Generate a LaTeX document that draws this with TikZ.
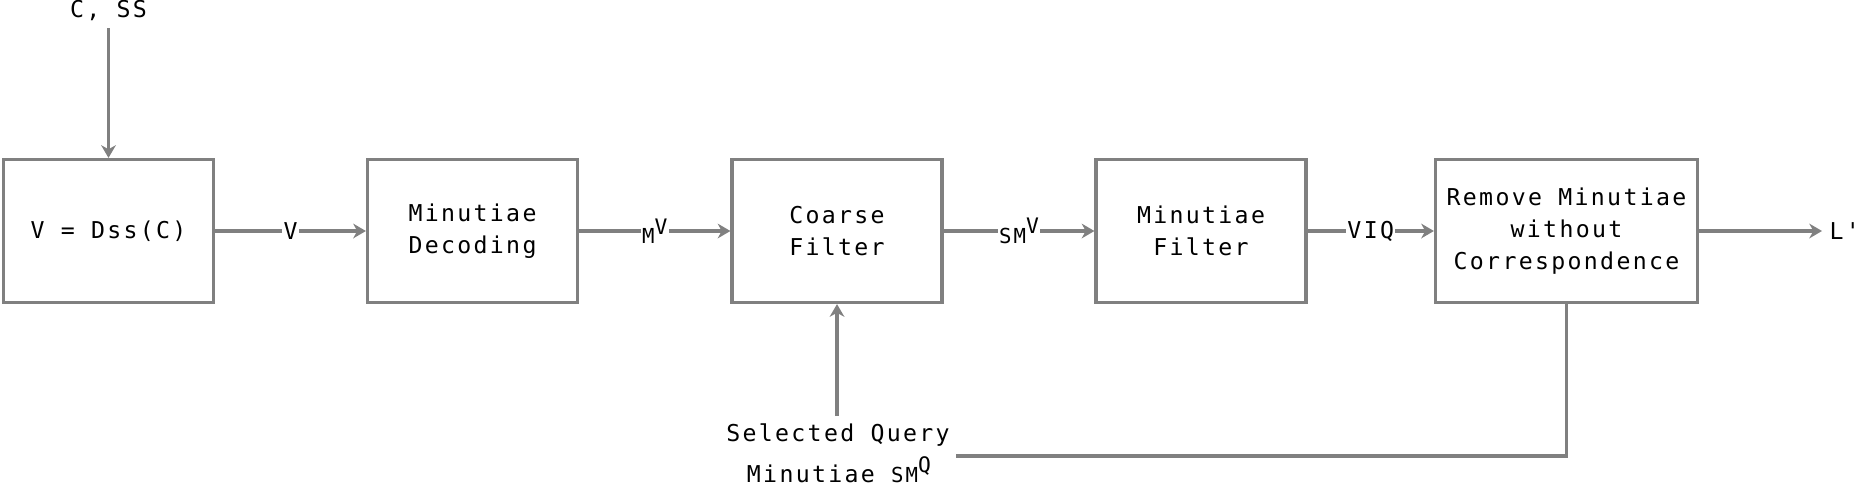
\documentclass[tikz,border=0pt]{standalone}
\usepackage{fontspec}
\setmonofont{DejaVu Sans Mono}[LetterSpace=10]
\usetikzlibrary{arrows.meta}
\definecolor{lc}{RGB}{128,128,128}
\newcommand{\mainsz}{\ttfamily\fontsize{17.4pt}{24pt}\selectfont}
\newcommand{\supl}[2]{{\fontsize{15.5pt}{15.5pt}\selectfont #1}\raisebox{7pt}{\fontsize{16pt}{16pt}\selectfont #2}}
\begin{document}
\begin{tikzpicture}[x=0.75pt,y=-0.75pt,
 box/.style={draw=lc, line width=2.4pt, minimum width=157.5pt, minimum height=107.25pt, align=center, font=\mainsz, inner sep=0pt},
 arr/.style={draw=lc, line width=2.4pt, -{Stealth[length=9.5pt,width=11pt,inset=3pt]}},
 ln/.style={draw=lc, line width=2.4pt},
 lbl/.style={fill=white, inner sep=1pt, font=\mainsz},
 txt/.style={font=\mainsz, inner sep=0pt}]
\useasboundingbox (0,0) rectangle (1855,483);
\node[box] (b1) at (108.5,231) {V = Dss(C)};
\node[box] (b2) at (472.5,231) {Minutiae\\Decoding};
\node[box] (b3) at (837,231) {Coarse\\Filter};
\node[box] (b4) at (1201,231) {Minutiae\\Filter};
\node[box, minimum width=196.5pt] (b5) at (1566.5,231) {Remove Minutiae\\without\\Correspondence};
\draw[arr] (b1) -- node[lbl]{V} (b2);
\draw[arr] (b2) -- node[lbl]{\supl{M}{V}} (b3);
\draw[arr] (b3) -- node[lbl]{\supl{SM}{V}} (b4);
\draw[arr] (b4) -- node[lbl]{VIQ} (b5);
\node[txt, anchor=west, inner xsep=5.5pt] (lp) at (1822,231) {L'};
\draw[arr] (b5) -- (lp);
\node[txt, anchor=base] (cs) at (108.5,17) {C, SS};
\coordinate (cst) at (108.5,28);
\draw[arr] (cst) -- (b1.north);
\node[txt, anchor=base] (sq1) at (838,441) {Selected Query};
\node[txt, anchor=base] (sq2) at (839,482) {Minutiae \supl{SM}{Q}};
\coordinate (sqt) at (837,416);
\draw[arr] (sqt) -- (b3.south);
\coordinate (sqr) at (956,456);
\draw[ln] (b5.south) |- (sqr);
\end{tikzpicture}
\end{document}
